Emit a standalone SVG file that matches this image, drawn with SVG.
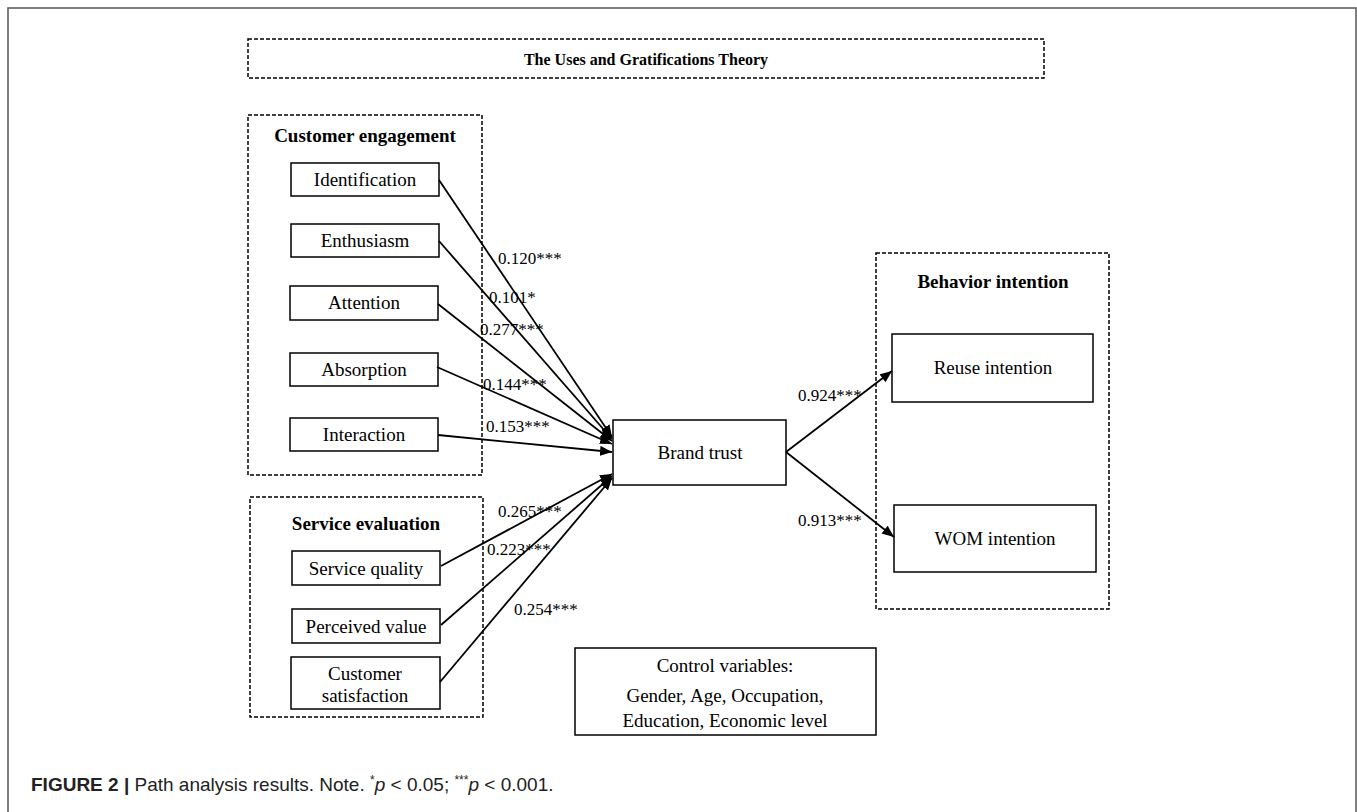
<svg xmlns="http://www.w3.org/2000/svg" width="1357" height="812" viewBox="0 0 1357 812">
<defs>
<style>
.frame{fill:none;stroke:#555;stroke-width:1.5}
.dash{fill:none;stroke:#000;stroke-width:1.5;stroke-dasharray:4 2}
.box{fill:#fff;stroke:#000;stroke-width:1.5}
.t{font-family:"Liberation Serif","Times New Roman",serif;font-size:19px;fill:#000;text-anchor:middle}
.tb{font-family:"Liberation Serif","Times New Roman",serif;font-size:19px;font-weight:bold;fill:#000;text-anchor:middle}
.lbl{font-family:"Liberation Serif","Times New Roman",serif;font-size:17px;fill:#000}
.edge{fill:none;stroke:#000;stroke-width:1.8;marker-end:url(#arr)}
.cap{font-family:"Liberation Sans",Arial,sans-serif;font-size:19px;fill:#222}
</style>
<marker id="arr" markerUnits="userSpaceOnUse" markerWidth="14" markerHeight="10" refX="12" refY="5" orient="auto">
<path d="M0,0 L12,5 L0,10 Z" fill="#000"/>
</marker>
</defs>
<rect width="1357" height="812" fill="#fff"/>
<path class="frame" d="M8,830 L8,8 L1356,8 L1356,830"/>

<g id="theory">
<rect class="dash" x="248" y="39" width="796" height="39"/>
<text class="tb" x="646" y="65" style="font-size:16px">The Uses and Gratifications Theory</text>
</g>

<g id="customer-engagement">
<rect class="dash" x="248" y="115" width="234" height="360"/>
<text class="tb" x="365" y="142">Customer engagement</text>
</g>
<g id="identification"><rect class="box" x="291" y="163" width="148" height="33"/><text class="t" x="365" y="186">Identification</text></g>
<g id="enthusiasm"><rect class="box" x="291" y="224" width="148" height="33"/><text class="t" x="365" y="247">Enthusiasm</text></g>
<g id="attention"><rect class="box" x="290" y="286" width="148" height="34"/><text class="t" x="364" y="309">Attention</text></g>
<g id="absorption"><rect class="box" x="290" y="353" width="148" height="33"/><text class="t" x="364" y="376">Absorption</text></g>
<g id="interaction"><rect class="box" x="290" y="418" width="148" height="33"/><text class="t" x="364" y="441">Interaction</text></g>

<g id="service-evaluation">
<rect class="dash" x="250" y="497" width="233" height="220"/>
<text class="tb" x="366" y="530">Service evaluation</text>
</g>
<g id="service-quality"><rect class="box" x="292" y="551" width="148" height="34"/><text class="t" x="366" y="575">Service quality</text></g>
<g id="perceived-value"><rect class="box" x="292" y="609" width="148" height="34"/><text class="t" x="366" y="633">Perceived value</text></g>
<g id="customer-satisfaction"><rect class="box" x="291" y="657" width="149" height="52"/><text class="t" x="365" y="680">Customer</text><text class="t" x="365" y="702">satisfaction</text></g>

<g id="brand-trust"><rect class="box" x="613" y="420" width="173" height="65"/><text class="t" x="700" y="459">Brand trust</text></g>

<g id="behavior-intention">
<rect class="dash" x="876" y="253" width="233" height="356"/>
<text class="tb" x="993" y="288">Behavior intention</text>
</g>
<g id="reuse-intention"><rect class="box" x="892" y="334" width="201" height="68"/><text class="t" x="993" y="374">Reuse intention</text></g>
<g id="wom-intention"><rect class="box" x="894" y="505" width="202" height="67"/><text class="t" x="995" y="545">WOM intention</text></g>

<g id="control-variables">
<rect class="box" x="575" y="648" width="301" height="87"/>
<text class="t" x="725" y="672">Control variables:</text>
<text class="t" x="725" y="702">Gender, Age, Occupation,</text>
<text class="t" x="725" y="727">Education, Economic level</text>
</g>

<g id="connectors">
<line class="edge" x1="439" y1="180" x2="612" y2="437"/>
<line class="edge" x1="439" y1="241" x2="612" y2="439"/>
<line class="edge" x1="438" y1="304" x2="612" y2="441"/>
<line class="edge" x1="437" y1="367" x2="612" y2="444"/>
<line class="edge" x1="438" y1="435" x2="612" y2="452"/>
<line class="edge" x1="441" y1="566" x2="612" y2="474"/>
<line class="edge" x1="441" y1="625" x2="612" y2="476"/>
<line class="edge" x1="440" y1="682" x2="612" y2="478"/>
<line class="edge" x1="786" y1="452" x2="892" y2="371"/>
<line class="edge" x1="786" y1="452" x2="894" y2="537"/>
<text class="lbl" x="498" y="264">0.120***</text>
<text class="lbl" x="489" y="303">0.101*</text>
<text class="lbl" x="480" y="335">0.277***</text>
<text class="lbl" x="483" y="390">0.144***</text>
<text class="lbl" x="486" y="432">0.153***</text>
<text class="lbl" x="498" y="517">0.265***</text>
<text class="lbl" x="487" y="555">0.223***</text>
<text class="lbl" x="514" y="615">0.254***</text>
<text class="lbl" x="798" y="401">0.924***</text>
<text class="lbl" x="798" y="526">0.913***</text>
</g>

<text class="cap" x="31" y="791"><tspan font-weight="bold">FIGURE 2 | </tspan>Path analysis results. Note. <tspan font-size="12" dy="-7">*</tspan><tspan font-style="italic" dy="7">p</tspan> &lt; 0.05; <tspan font-size="12" dy="-7">***</tspan><tspan font-style="italic" dy="7">p</tspan> &lt; 0.001.</text>
</svg>
